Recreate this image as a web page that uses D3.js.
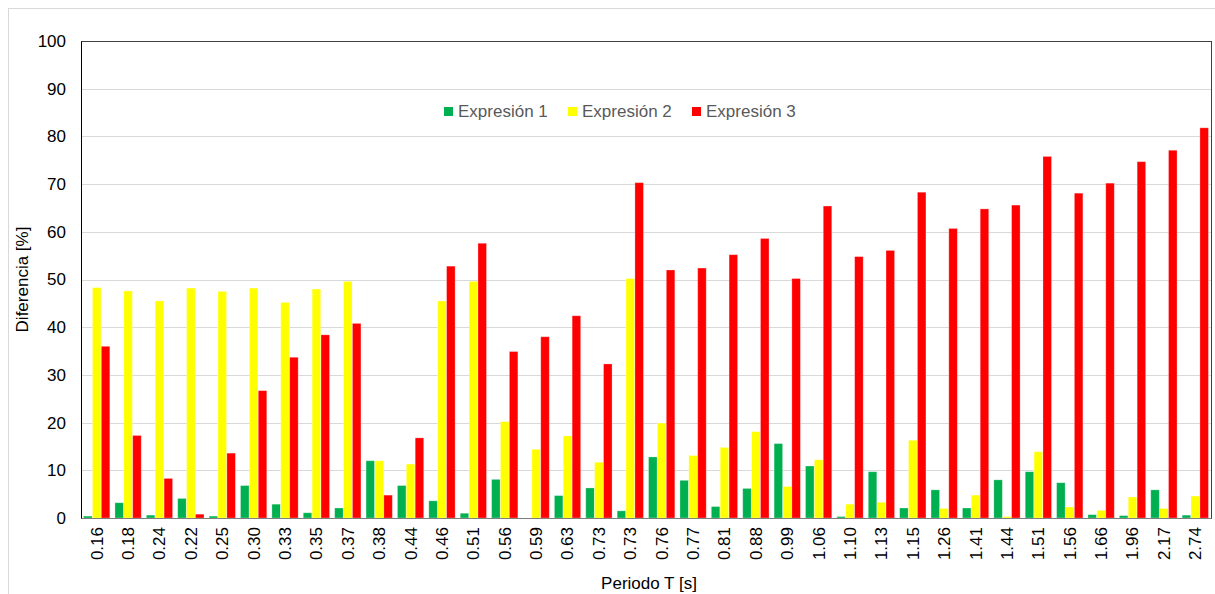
<!DOCTYPE html>
<html>
<head>
<meta charset="utf-8">
<script src="https://cdn.jsdelivr.net/npm/d3@7"></script>
<style>
  body { margin: 0; background: #fff; }
  svg { display: block; font-family: "Liberation Sans", Arial, sans-serif; }
  .grid line { stroke: #d9d9d9; stroke-width: 1; }
  .tick text { fill: #000; font-size: 17px; }
</style>
</head>
<body>
<svg id="chart"></svg>
<script>
// periods (there are two 0.73 entries, so bars are placed by index)
const periods = ['0.16', '0.18', '0.24', '0.22', '0.25', '0.30', '0.33', '0.35', '0.37', '0.38',
  '0.44', '0.46', '0.51', '0.56', '0.59', '0.63', '0.73', '0.73', '0.76', '0.77',
  '0.81', '0.88', '0.99', '1.06', '1.10', '1.13', '1.15', '1.26', '1.41', '1.44',
  '1.51', '1.56', '1.66', '1.96', '2.17', '2.74'];

const expresion1 = [0.4, 3.2, 0.6, 4.1, 0.4, 6.8, 2.9, 1.1, 2.1, 12.0,
  6.8, 3.6, 1.0, 8.1, 0, 4.7, 6.3, 1.5, 12.8, 7.9,
  2.4, 6.2, 15.6, 10.9, 0.3, 9.7, 2.1, 5.9, 2.1, 8.0,
  9.7, 7.4, 0.7, 0.5, 5.9, 0.6];

const expresion2 = [48.3, 47.6, 45.5, 48.2, 47.5, 48.2, 45.2, 48.0, 49.6, 12.0,
  11.3, 45.5, 49.6, 20.2, 14.4, 17.2, 11.7, 50.2, 19.9, 13.1,
  14.8, 18.1, 6.6, 12.2, 2.9, 3.3, 16.3, 2.0, 4.8, 0.3,
  13.9, 2.3, 1.6, 4.4, 2.0, 4.6];

const expresion3 = [36.0, 17.3, 8.3, 0.8, 13.6, 26.7, 33.7, 38.4, 40.8, 4.8,
  16.8, 52.8, 57.6, 34.9, 38.0, 42.4, 32.3, 70.3, 52.0, 52.4,
  55.2, 58.6, 50.2, 65.4, 54.8, 56.1, 68.3, 60.7, 64.8, 65.6,
  75.8, 68.1, 70.2, 74.7, 77.1, 81.8];

const seriesNames = ['Expresión 1', 'Expresión 2', 'Expresión 3'];
const seriesColors = ['#00b050', '#ffff00', '#ff0000'];
const yTicks = [0, 10, 20, 30, 40, 50, 60, 70, 80, 90, 100];

const width = 1215, height = 594;
const margin = { top: 41, right: 4, bottom: 76, left: 81 };
const plotW = width - margin.left - margin.right;
const plotH = height - margin.top - margin.bottom;

const series = [expresion1, expresion2, expresion3];

const svg = d3.select('#chart')
  .attr('width', width)
  .attr('height', height);

// outer chart border
svg.append('rect')
  .attr('x', 8.5).attr('y', 8.5)
  .attr('width', width).attr('height', height)
  .attr('fill', 'none')
  .attr('stroke', '#d9d9d9');

const g = svg.append('g')
  .attr('transform', `translate(${margin.left},${margin.top})`);

const x0 = d3.scaleBand()
  .domain(d3.range(periods.length))
  .range([0, plotW])
  .paddingInner(0.14)
  .paddingOuter(0.07);

const x1 = d3.scaleBand()
  .domain(d3.range(series.length))
  .range([0, x0.bandwidth()])
  .padding(0.04);

const y = d3.scaleLinear()
  .domain([0, 100])
  .range([plotH, 0]);

// gridlines
g.append('g')
  .attr('class', 'grid')
  .selectAll('line')
  .data(yTicks.slice(1))
  .join('line')
    .attr('x1', 0).attr('x2', plotW)
    .attr('y1', d => Math.round(y(d)) + 0.5)
    .attr('y2', d => Math.round(y(d)) + 0.5);

// bars
const groups = g.selectAll('g.group')
  .data(periods)
  .join('g')
    .attr('class', 'group')
    .attr('transform', (d, i) => `translate(${x0(i)},0)`);

groups.selectAll('rect')
  .data((d, i) => series.map((s, k) => ({ k: k, v: s[i] })))
  .join('rect')
    .attr('x', d => x1(d.k))
    .attr('y', d => y(d.v))
    .attr('width', x1.bandwidth())
    .attr('height', d => plotH - y(d.v))
    .attr('fill', d => seriesColors[d.k])
    .attr('stroke', 'rgba(255,255,255,0.35)')
    .attr('stroke-width', 0.8);

// plot frame
g.append('rect')
  .attr('x', 0.5).attr('y', 0.5)
  .attr('width', plotW).attr('height', plotH)
  .attr('fill', 'none')
  .attr('stroke', '#404040');

// y axis
const yAxis = d3.axisLeft(y)
  .tickValues(yTicks)
  .tickSize(0)
  .tickPadding(15);

g.append('g')
  .call(yAxis)
  .call(a => a.select('.domain').attr('stroke', '#000'));

// x axis
const xAxis = d3.axisBottom(x0)
  .tickSize(0)
  .tickFormat(i => periods[i]);

g.append('g')
  .attr('transform', `translate(0,${plotH})`)
  .call(xAxis)
  .call(a => a.select('.domain').attr('stroke', '#7f7f7f'))
  .selectAll('text')
    .attr('transform', 'rotate(-90)')
    .attr('text-anchor', 'end')
    .attr('x', -9)
    .attr('y', 0)
    .attr('dy', '0.35em');

// axis titles
svg.append('text')
  .attr('transform', `translate(28,${margin.top + plotH / 2}) rotate(-90)`)
  .attr('text-anchor', 'middle')
  .attr('font-size', 17)
  .attr('fill', '#000')
  .text('Diferencia [%]');

svg.append('text')
  .attr('x', margin.left + plotW / 2 + 3)
  .attr('y', 589)
  .attr('text-anchor', 'middle')
  .attr('font-size', 17)
  .attr('fill', '#000')
  .text('Periodo T [s]');

// legend
const legendX = [444, 568, 692];
const legend = svg.append('g')
  .selectAll('g')
  .data(seriesNames)
  .join('g')
    .attr('transform', (d, i) => `translate(${legendX[i]},111)`);

legend.append('rect')
  .attr('x', 0).attr('y', -4)
  .attr('width', 9).attr('height', 9)
  .attr('fill', (d, i) => seriesColors[i]);

legend.append('text')
  .attr('x', 14)
  .attr('y', 0)
  .attr('dy', '0.35em')
  .attr('font-size', 17)
  .attr('fill', '#595959')
  .text(d => d);
</script>
</body>
</html>
